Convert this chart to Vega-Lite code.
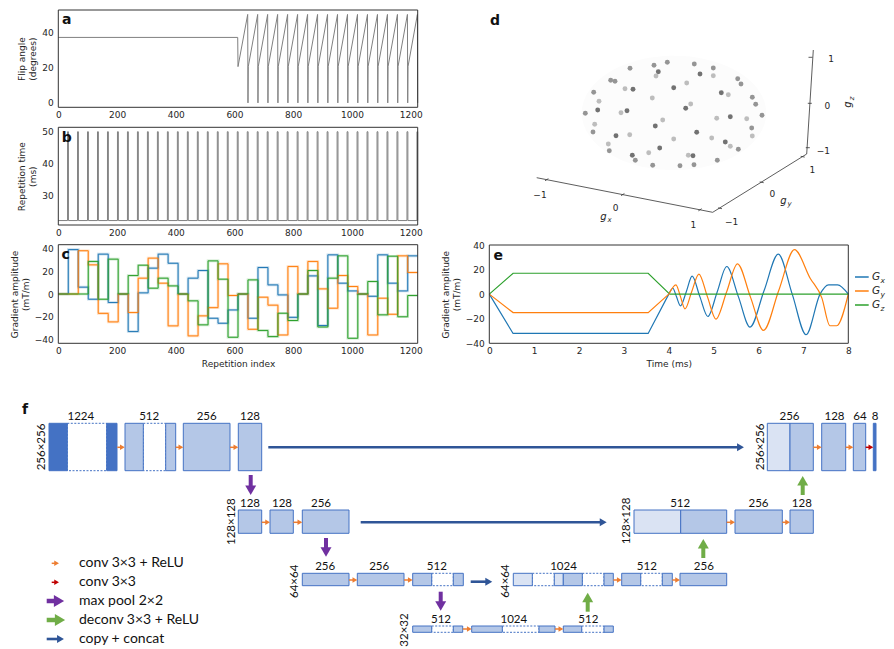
{
"$schema":"https://vega.github.io/schema/vega-lite/v6.json",
"width":894,"height":649,"autosize":{"type":"none"},"padding":0,"background":"#ffffff",
"config":{"view":{"stroke":null},
 "axis":{"labelFont":"DejaVu Sans","titleFont":"DejaVu Sans","labelFontSize":9,"titleFontSize":9,"titleFontWeight":"normal","labelColor":"#262626","titleColor":"#262626","ticks":false,"domain":false,"grid":false,"labelPadding":3,"labelFlush":false,"labelOverlap":false,"labelBound":false,"titlePadding":4,"format":"d"},
 "text":{"font":"DejaVu Sans"}},
"datasets":{
 "flip":[{"r":0,"a":37},{"r":611,"a":37},{"r":612,"a":20.5},
  {"r":645,"a":50},{"r":646,"a":0},{"r":647,"a":20.5},
  {"r":679,"a":50},{"r":680,"a":0},{"r":681,"a":20.5},
  {"r":713,"a":50},{"r":714,"a":0},{"r":715,"a":20.5},
  {"r":747,"a":50},{"r":748,"a":0},{"r":749,"a":20.5},
  {"r":781,"a":50},{"r":782,"a":0},{"r":783,"a":20.5},
  {"r":815,"a":50},{"r":816,"a":0},{"r":817,"a":20.5},
  {"r":849,"a":50},{"r":850,"a":0},{"r":851,"a":20.5},
  {"r":883,"a":50},{"r":884,"a":0},{"r":885,"a":20.5},
  {"r":917,"a":50},{"r":918,"a":0},{"r":919,"a":20.5},
  {"r":951,"a":50},{"r":952,"a":0},{"r":953,"a":20.5},
  {"r":985,"a":50},{"r":986,"a":0},{"r":987,"a":20.5},
  {"r":1019,"a":50},{"r":1020,"a":0},{"r":1021,"a":20.5},
  {"r":1053,"a":50},{"r":1054,"a":0},{"r":1055,"a":20.5},
  {"r":1087,"a":50},{"r":1088,"a":0},{"r":1089,"a":20.5},
  {"r":1121,"a":50},{"r":1122,"a":0},{"r":1123,"a":20.5},
  {"r":1155,"a":50},{"r":1156,"a":0},{"r":1157,"a":20.5},
  {"r":1189,"a":50},{"r":1190,"a":0},{"r":1191,"a":20.5},
  {"r":1223,"a":50},{"r":1224,"a":0}],
 "tr":[{"r":0,"t":22},
  {"r":31.5,"t":50},{"r":34.5,"t":22},{"r":65.5,"t":50},{"r":68.5,"t":22},{"r":99.5,"t":50},{"r":102.5,"t":22},
  {"r":133.5,"t":50},{"r":136.5,"t":22},{"r":167.5,"t":50},{"r":170.5,"t":22},{"r":201.5,"t":50},{"r":204.5,"t":22},
  {"r":235.5,"t":50},{"r":238.5,"t":22},{"r":269.5,"t":50},{"r":272.5,"t":22},{"r":303.5,"t":50},{"r":306.5,"t":22},
  {"r":337.5,"t":50},{"r":340.5,"t":22},{"r":371.5,"t":50},{"r":374.5,"t":22},{"r":405.5,"t":50},{"r":408.5,"t":22},
  {"r":439.5,"t":50},{"r":442.5,"t":22},{"r":473.5,"t":50},{"r":476.5,"t":22},{"r":507.5,"t":50},{"r":510.5,"t":22},
  {"r":541.5,"t":50},{"r":544.5,"t":22},{"r":575.5,"t":50},{"r":578.5,"t":22},{"r":609.5,"t":50},{"r":612.5,"t":22},
  {"r":643.5,"t":50},{"r":646.5,"t":22},{"r":677.5,"t":50},{"r":680.5,"t":22},{"r":711.5,"t":50},{"r":714.5,"t":22},
  {"r":745.5,"t":50},{"r":748.5,"t":22},{"r":779.5,"t":50},{"r":782.5,"t":22},{"r":813.5,"t":50},{"r":816.5,"t":22},
  {"r":847.5,"t":50},{"r":850.5,"t":22},{"r":881.5,"t":50},{"r":884.5,"t":22},{"r":915.5,"t":50},{"r":918.5,"t":22},
  {"r":949.5,"t":50},{"r":952.5,"t":22},{"r":983.5,"t":50},{"r":986.5,"t":22},{"r":1017.5,"t":50},{"r":1020.5,"t":22},
  {"r":1051.5,"t":50},{"r":1054.5,"t":22},{"r":1085.5,"t":50},{"r":1088.5,"t":22},{"r":1119.5,"t":50},{"r":1122.5,"t":22},
  {"r":1153.5,"t":50},{"r":1156.5,"t":22},{"r":1187.5,"t":50},{"r":1190.5,"t":22},{"r":1221.5,"t":50},{"r":1224,"t":22}],
 "grad":[
  {"r":0,"v":0,"g":"Gx"},{"r":34,"v":39,"g":"Gx"},{"r":68,"v":6,"g":"Gx"},{"r":102,"v":-4.6,"g":"Gx"},{"r":136,"v":35,"g":"Gx"},{"r":170,"v":-7.5,"g":"Gx"},{"r":204,"v":0,"g":"Gx"},{"r":238,"v":-33,"g":"Gx"},{"r":272,"v":1,"g":"Gx"},{"r":306,"v":22.7,"g":"Gx"},{"r":340,"v":35,"g":"Gx"},{"r":374,"v":27,"g":"Gx"},{"r":408,"v":0,"g":"Gx"},{"r":442,"v":13.9,"g":"Gx"},{"r":476,"v":20.6,"g":"Gx"},{"r":510,"v":-21.3,"g":"Gx"},{"r":544,"v":-25.7,"g":"Gx"},{"r":578,"v":-14,"g":"Gx"},{"r":612,"v":0,"g":"Gx"},{"r":646,"v":-21.3,"g":"Gx"},{"r":680,"v":23.3,"g":"Gx"},{"r":714,"v":8,"g":"Gx"},{"r":748,"v":-0.8,"g":"Gx"},{"r":782,"v":-20.5,"g":"Gx"},{"r":816,"v":0,"g":"Gx"},{"r":850,"v":15.9,"g":"Gx"},{"r":884,"v":-27.7,"g":"Gx"},{"r":918,"v":34.4,"g":"Gx"},{"r":952,"v":9.5,"g":"Gx"},{"r":986,"v":2.7,"g":"Gx"},{"r":1020,"v":0,"g":"Gx"},{"r":1054,"v":-2,"g":"Gx"},{"r":1088,"v":34.4,"g":"Gx"},{"r":1122,"v":9.5,"g":"Gx"},{"r":1156,"v":2.7,"g":"Gx"},{"r":1190,"v":33.5,"g":"Gx"},{"r":1224,"v":33.5,"g":"Gx"},
  {"r":0,"v":0,"g":"Gy"},{"r":34,"v":0,"g":"Gy"},{"r":68,"v":38,"g":"Gy"},{"r":102,"v":25.6,"g":"Gy"},{"r":136,"v":-17,"g":"Gy"},{"r":170,"v":-24.5,"g":"Gy"},{"r":204,"v":0,"g":"Gy"},{"r":238,"v":-16.3,"g":"Gy"},{"r":272,"v":13.9,"g":"Gy"},{"r":306,"v":31.5,"g":"Gy"},{"r":340,"v":9.5,"g":"Gy"},{"r":374,"v":-28,"g":"Gy"},{"r":408,"v":0,"g":"Gy"},{"r":442,"v":-36.8,"g":"Gy"},{"r":476,"v":-19.2,"g":"Gy"},{"r":510,"v":-12,"g":"Gy"},{"r":544,"v":26.5,"g":"Gy"},{"r":578,"v":-1.3,"g":"Gy"},{"r":612,"v":0,"g":"Gy"},{"r":646,"v":-31,"g":"Gy"},{"r":680,"v":-2.8,"g":"Gy"},{"r":714,"v":-9.8,"g":"Gy"},{"r":748,"v":-36,"g":"Gy"},{"r":782,"v":24.2,"g":"Gy"},{"r":816,"v":0,"g":"Gy"},{"r":850,"v":28.6,"g":"Gy"},{"r":884,"v":4.5,"g":"Gy"},{"r":918,"v":-12.5,"g":"Gy"},{"r":952,"v":16.2,"g":"Gy"},{"r":986,"v":6.6,"g":"Gy"},{"r":1020,"v":0,"g":"Gy"},{"r":1054,"v":-36,"g":"Gy"},{"r":1088,"v":-3.7,"g":"Gy"},{"r":1122,"v":-17.8,"g":"Gy"},{"r":1156,"v":33.5,"g":"Gy"},{"r":1190,"v":18.9,"g":"Gy"},{"r":1224,"v":18.9,"g":"Gy"},
  {"r":0,"v":0,"g":"Gz"},{"r":34,"v":0,"g":"Gz"},{"r":68,"v":0,"g":"Gz"},{"r":102,"v":28.6,"g":"Gz"},{"r":136,"v":-4.6,"g":"Gz"},{"r":170,"v":30.6,"g":"Gz"},{"r":204,"v":0,"g":"Gz"},{"r":238,"v":16.2,"g":"Gz"},{"r":272,"v":25.3,"g":"Gz"},{"r":306,"v":5.1,"g":"Gz"},{"r":340,"v":13.9,"g":"Gz"},{"r":374,"v":7.1,"g":"Gz"},{"r":408,"v":0,"g":"Gz"},{"r":442,"v":-6,"g":"Gz"},{"r":476,"v":-27.1,"g":"Gz"},{"r":510,"v":29.1,"g":"Gz"},{"r":544,"v":13,"g":"Gz"},{"r":578,"v":-38,"g":"Gz"},{"r":612,"v":0,"g":"Gz"},{"r":646,"v":12.4,"g":"Gz"},{"r":680,"v":-32,"g":"Gz"},{"r":714,"v":-37.4,"g":"Gz"},{"r":748,"v":-16.9,"g":"Gz"},{"r":782,"v":-23.3,"g":"Gz"},{"r":816,"v":0,"g":"Gz"},{"r":850,"v":20.6,"g":"Gz"},{"r":884,"v":-29,"g":"Gz"},{"r":918,"v":13.9,"g":"Gz"},{"r":952,"v":33.5,"g":"Gz"},{"r":986,"v":-38.9,"g":"Gz"},{"r":1020,"v":0,"g":"Gz"},{"r":1054,"v":11,"g":"Gz"},{"r":1088,"v":-18.3,"g":"Gz"},{"r":1122,"v":33.2,"g":"Gz"},{"r":1156,"v":-20,"g":"Gz"},{"r":1190,"v":-1.3,"g":"Gz"},{"r":1224,"v":-1.3,"g":"Gz"}],
 "eRamp":[{"t":0,"v":0,"g":"Gx"},{"t":0.53,"v":-32,"g":"Gx"},{"t":3.54,"v":-32,"g":"Gx"},{"t":4.0,"v":0,"g":"Gx"},
  {"t":0,"v":0,"g":"Gy"},{"t":0.53,"v":-15,"g":"Gy"},{"t":3.54,"v":-15,"g":"Gy"},{"t":4.0,"v":0,"g":"Gy"},
  {"t":0,"v":0,"g":"Gz"},{"t":0.53,"v":17,"g":"Gz"},{"t":3.54,"v":17,"g":"Gz"},{"t":4.02,"v":0,"g":"Gz"}],
 "eOsc":[{"t":4.0,"v":0,"g":"Gx"},{"t":4.09,"v":4.8,"g":"Gx"},{"t":4.17,"v":-2,"g":"Gx"},{"t":4.26,"v":-9.5,"g":"Gx"},{"t":4.39,"v":2,"g":"Gx"},{"t":4.52,"v":14.6,"g":"Gx"},{"t":4.69,"v":-1.8,"g":"Gx"},{"t":4.87,"v":-18.2,"g":"Gx"},{"t":5.08,"v":2,"g":"Gx"},{"t":5.29,"v":22.5,"g":"Gx"},{"t":5.55,"v":-2,"g":"Gx"},{"t":5.81,"v":-26.8,"g":"Gx"},{"t":6.12,"v":2.5,"g":"Gx"},{"t":6.44,"v":32.5,"g":"Gx"},{"t":6.75,"v":0,"g":"Gx"},{"t":7.06,"v":-33,"g":"Gx"},{"t":7.37,"v":0,"g":"Gx"},{"t":7.56,"v":7.6,"g":"Gx"},{"t":7.76,"v":7.6,"g":"Gx"},{"t":8.0,"v":0,"g":"Gx"},
  {"t":4.0,"v":0,"g":"Gy"},{"t":4.16,"v":7.6,"g":"Gy"},{"t":4.26,"v":-2,"g":"Gy"},{"t":4.36,"v":-12,"g":"Gy"},{"t":4.51,"v":2,"g":"Gy"},{"t":4.67,"v":16.3,"g":"Gy"},{"t":4.86,"v":-2,"g":"Gy"},{"t":5.05,"v":-20.3,"g":"Gy"},{"t":5.29,"v":2,"g":"Gy"},{"t":5.53,"v":24.7,"g":"Gy"},{"t":5.82,"v":-2.4,"g":"Gy"},{"t":6.11,"v":-29.5,"g":"Gy"},{"t":6.45,"v":3,"g":"Gy"},{"t":6.8,"v":36.3,"g":"Gy"},{"t":7.15,"v":13,"g":"Gy"},{"t":7.41,"v":-3,"g":"Gy"},{"t":7.59,"v":-25.7,"g":"Gy"},{"t":7.74,"v":-25.7,"g":"Gy"},{"t":8.0,"v":0,"g":"Gy"},
  {"t":4.02,"v":0,"g":"Gz"},{"t":8.0,"v":0,"g":"Gz"}],
 "dSphere":[{"x":674,"y":113}],
 "dLines":[{"x":536.7,"y":177.7,"x2":712.7,"y2":212.3},{"x":712.7,"y":212.3,"x2":806.7,"y2":154},{"x":806.7,"y":154,"x2":813.3,"y2":50},
  {"x":548.4,"y":178.6,"x2":545,"y2":180.8},{"x":624.4,"y":193.5,"x2":621,"y2":195.7},{"x":701.7,"y":208.7,"x2":698.3,"y2":210.9},
  {"x":718,"y":207.9,"x2":722,"y2":208.7},{"x":759.7,"y":181.9,"x2":763.7,"y2":182.7},{"x":800.7,"y":156.3,"x2":804.7,"y2":157.1},
  {"x":808.5,"y":57.3,"x2":812.5,"y2":57.3},{"x":807.8,"y":103.3,"x2":811.8,"y2":103.3},{"x":805.8,"y":147.7,"x2":809.8,"y2":147.7}],
 "dPts":[{"x":630.0,"y":68.3,"s":"mid"},{"x":654.0,"y":65.3,"s":"mid"},{"x":667.3,"y":62.3,"s":"mid"},{"x":694.3,"y":64.0,"s":"mid"},{"x":713.3,"y":68.0,"s":"mid"},{"x":658.3,"y":71.7,"s":"dark"},{"x":656.0,"y":76.0,"s":"light"},{"x":700.0,"y":74.0,"s":"dark"},{"x":713.3,"y":75.7,"s":"light"},{"x":610.7,"y":80.3,"s":"mid"},{"x":615.0,"y":81.3,"s":"mid"},{"x":737.7,"y":78.7,"s":"mid"},{"x":741.0,"y":84.0,"s":"mid"},{"x":686.7,"y":83.0,"s":"light"},{"x":625.0,"y":88.7,"s":"light"},{"x":633.0,"y":89.3,"s":"dark"},{"x":673.7,"y":87.7,"s":"dark"},{"x":593.7,"y":92.3,"s":"mid"},{"x":721.3,"y":92.7,"s":"dark"},{"x":728.3,"y":94.7,"s":"light"},{"x":599.0,"y":101.3,"s":"light"},{"x":652.3,"y":98.0,"s":"light"},{"x":752.3,"y":97.3,"s":"mid"},{"x":755.7,"y":104.3,"s":"mid"},{"x":690.7,"y":104.0,"s":"light"},{"x":685.7,"y":108.3,"s":"dark"},{"x":597.7,"y":110.0,"s":"dark"},{"x":627.0,"y":110.7,"s":"dark"},{"x":621.0,"y":112.7,"s":"light"},{"x":585.3,"y":113.3,"s":"mid"},{"x":762.0,"y":115.3,"s":"mid"},{"x":716.7,"y":118.3,"s":"light"},{"x":730.3,"y":116.7,"s":"dark"},{"x":746.7,"y":118.7,"s":"light"},{"x":662.7,"y":120.0,"s":"light"},{"x":594.7,"y":124.3,"s":"light"},{"x":655.3,"y":126.0,"s":"dark"},{"x":751.7,"y":128.0,"s":"mid"},{"x":593.0,"y":132.0,"s":"mid"},{"x":616.0,"y":135.7,"s":"dark"},{"x":629.7,"y":134.7,"s":"light"},{"x":696.7,"y":132.3,"s":"dark"},{"x":752.3,"y":136.0,"s":"light"},{"x":673.7,"y":139.0,"s":"light"},{"x":711.7,"y":138.0,"s":"light"},{"x":608.3,"y":144.0,"s":"light"},{"x":725.3,"y":142.0,"s":"dark"},{"x":730.3,"y":146.3,"s":"light"},{"x":609.3,"y":150.7,"s":"mid"},{"x":659.7,"y":148.0,"s":"dark"},{"x":738.3,"y":149.3,"s":"mid"},{"x":648.7,"y":152.7,"s":"light"},{"x":632.3,"y":155.3,"s":"dark"},{"x":688.3,"y":155.3,"s":"light"},{"x":693.0,"y":155.7,"s":"dark"},{"x":635.3,"y":160.3,"s":"mid"},{"x":717.3,"y":160.3,"s":"mid"},{"x":652.7,"y":165.3,"s":"mid"},{"x":680.0,"y":165.7,"s":"mid"},{"x":694.0,"y":164.7,"s":"mid"}],
 "dLab":[{"x":540,"y":195,"t":"−1"},{"x":615.7,"y":208.3,"t":"0"},{"x":693.3,"y":225,"t":"1"},{"x":812.3,"y":170,"t":"1"},{"x":772.3,"y":194,"t":"0"},{"x":731.7,"y":221.7,"t":"−1"},{"x":831,"y":59.3,"t":"1"},{"x":827.3,"y":106,"t":"0"},{"x":823.3,"y":150.7,"t":"−1"}],
 "dG":[{"x":603.5,"y":216.5,"t":"g"},{"x":783.5,"y":200.5,"t":"g"}],
 "dGsub":[{"x":609.5,"y":220,"t":"x"},{"x":789.5,"y":204,"t":"y"}],
 "dGz":[{"x":848,"y":104.5,"t":"g"}],
 "dGzsub":[{"x":851.5,"y":98.5,"t":"z"}],
 "fOpen":[{"x":67.3,"x2":106.7,"y":423.3,"y2":470.7},{"x":143.3,"x2":165.7,"y":423.3,"y2":470.7},
  {"x":431.7,"x2":453.3,"y":573.3,"y2":585.7},{"x":532.3,"x2":554.3,"y":573.3,"y2":585.7},{"x":582.3,"x2":604,"y":573.3,"y2":585.7},{"x":640.7,"x2":662.3,"y":573.3,"y2":585.7},
  {"x":431.7,"x2":453.3,"y":626,"y2":632.3},{"x":502.3,"x2":539,"y":626,"y2":632.3},{"x":581.7,"x2":604,"y":626,"y2":632.3}],
 "fBox":[{"x":49,"x2":67.3,"y":423.3,"y2":470.7,"p":"dark"},{"x":106.7,"x2":117,"y":423.3,"y2":470.7,"p":"dark"},
  {"x":125,"x2":143.3,"y":423.3,"y2":470.7,"p":"mid"},{"x":165.7,"x2":175.7,"y":423.3,"y2":470.7,"p":"mid"},
  {"x":183.3,"x2":230,"y":423.3,"y2":470.7,"p":"mid"},{"x":238.3,"x2":261.7,"y":423.3,"y2":470.7,"p":"mid"},
  {"x":767.3,"x2":790,"y":423.3,"y2":470.7,"p":"light"},{"x":790,"x2":813.3,"y":423.3,"y2":470.7,"p":"mid"},{"x":821.7,"x2":845.7,"y":423.3,"y2":470.7,"p":"mid"},{"x":853.3,"x2":865.7,"y":423.3,"y2":470.7,"p":"mid"},{"x":873.3,"x2":876,"y":423.3,"y2":470.7,"p":"dark"},
  {"x":238.3,"x2":261.7,"y":510,"y2":533.3,"p":"mid"},{"x":270,"x2":293.3,"y":510,"y2":533.3,"p":"mid"},{"x":302.3,"x2":349,"y":510,"y2":533.3,"p":"mid"},
  {"x":634,"x2":680.7,"y":510,"y2":533.3,"p":"light"},{"x":680.7,"x2":726.7,"y":510,"y2":533.3,"p":"mid"},{"x":735,"x2":782.3,"y":510,"y2":533.3,"p":"mid"},{"x":790,"x2":813.3,"y":510,"y2":533.3,"p":"mid"},
  {"x":302.3,"x2":349,"y":573.3,"y2":585.7,"p":"mid"},{"x":357.3,"x2":404,"y":573.3,"y2":585.7,"p":"mid"},{"x":412.7,"x2":431.7,"y":573.3,"y2":585.7,"p":"mid"},{"x":453.3,"x2":463.3,"y":573.3,"y2":585.7,"p":"mid"},
  {"x":513.3,"x2":532.3,"y":573.3,"y2":585.7,"p":"light"},{"x":554.3,"x2":563.3,"y":573.3,"y2":585.7,"p":"light"},{"x":563.3,"x2":582.3,"y":573.3,"y2":585.7,"p":"mid"},{"x":604,"x2":613.3,"y":573.3,"y2":585.7,"p":"mid"},
  {"x":621.7,"x2":640.7,"y":573.3,"y2":585.7,"p":"mid"},{"x":662.3,"x2":672.3,"y":573.3,"y2":585.7,"p":"mid"},{"x":680,"x2":726.7,"y":573.3,"y2":585.7,"p":"mid"},
  {"x":412.7,"x2":431.7,"y":626,"y2":632.3,"p":"mid"},{"x":453.3,"x2":462.7,"y":626,"y2":632.3,"p":"mid"},{"x":471.7,"x2":502.3,"y":626,"y2":632.3,"p":"mid"},{"x":539,"x2":555,"y":626,"y2":632.3,"p":"mid"},{"x":563.3,"x2":581.7,"y":626,"y2":632.3,"p":"mid"},{"x":604,"x2":613.3,"y":626,"y2":632.3,"p":"mid"}],
 "fSmall":[{"x":117.3,"x2":124.8,"y":447.3,"k":"conv"},{"x":175.7,"x2":183.3,"y":447.3,"k":"conv"},{"x":230,"x2":238.3,"y":447.3,"k":"conv"},{"x":813.3,"x2":821.7,"y":447.3,"k":"conv"},{"x":845.7,"x2":853.3,"y":447.3,"k":"conv"},{"x":865.7,"x2":873.3,"y":447.3,"k":"last"},
  {"x":261.7,"x2":270,"y":522.3,"k":"conv"},{"x":293.3,"x2":302.3,"y":522.3,"k":"conv"},{"x":726.7,"x2":735,"y":522.3,"k":"conv"},{"x":782.3,"x2":790,"y":522.3,"k":"conv"},
  {"x":349,"x2":357.3,"y":580,"k":"conv"},{"x":404,"x2":412.7,"y":580,"k":"conv"},{"x":613.3,"x2":621.7,"y":580,"k":"conv"},{"x":672.3,"x2":680,"y":580,"k":"conv"},
  {"x":462.7,"x2":471.7,"y":629,"k":"conv"},{"x":555,"x2":563.3,"y":629,"k":"conv"},
  {"x":51.7,"x2":59,"y":563.3,"k":"conv"},{"x":51.7,"x2":59,"y":582.3,"k":"last"}],
 "fCopy":[{"x":268.3,"x2":744,"y":447.3,"k":"copy"},{"x":360.7,"x2":606.7,"y":522.3,"k":"copy"},{"x":470.7,"x2":492.3,"y":581.7,"k":"copy"},{"x":46.7,"x2":64,"y":639,"k":"copy"}],
 "fBigH":[{"x":46.7,"x2":64,"y":601,"k":"pool"},{"x":46.7,"x2":65,"y":620,"k":"deconv"}],
 "fDown":[{"x":250.7,"y":475,"y2":495,"k":"pool"},{"x":326,"y":538,"y2":556.7,"k":"pool"},{"x":440.7,"y":591.7,"y2":610.7,"k":"pool"}],
 "fUp":[{"x":587.7,"y":611.7,"y2":592.7,"k":"deconv"},{"x":703.3,"y":558,"y2":539,"k":"deconv"},{"x":802.7,"y":495,"y2":476,"k":"deconv"}],
 "fNums":[{"x":80.8,"y":423.3,"t":"1224"},{"x":149.2,"y":423.3,"t":"512"},{"x":206.7,"y":423.3,"t":"256"},{"x":250,"y":423.3,"t":"128"},{"x":789.5,"y":423.3,"t":"256"},{"x":834.5,"y":423.3,"t":"128"},{"x":860,"y":423.3,"t":"64"},{"x":875,"y":423.3,"t":"8"},
  {"x":250,"y":510,"t":"128"},{"x":282,"y":510,"t":"128"},{"x":321,"y":510,"t":"256"},{"x":680.2,"y":510,"t":"512"},{"x":758.5,"y":510,"t":"256"},{"x":801.8,"y":510,"t":"128"},
  {"x":325.2,"y":573.3,"t":"256"},{"x":379.2,"y":573.3,"t":"256"},{"x":436.8,"y":573.3,"t":"512"},{"x":563.5,"y":573.3,"t":"1024"},{"x":646.8,"y":573.3,"t":"512"},{"x":703.8,"y":573.3,"t":"256"},
  {"x":441,"y":626,"t":"512"},{"x":513.8,"y":626,"t":"1024"},{"x":588.3,"y":626,"t":"512"}],
 "fRows":[{"x":41.7,"y":447,"t":"256×256"},{"x":760.7,"y":447,"t":"256×256"},{"x":232,"y":521.7,"t":"128×128"},{"x":627.3,"y":521,"t":"128×128"},{"x":295,"y":581.3,"t":"64×64"},{"x":505.7,"y":581,"t":"64×64"},{"x":405,"y":630,"t":"32×32"}],
 "fLeg":[{"x":79,"y":563.3,"t":"conv 3×3 + ReLU"},{"x":79,"y":582.3,"t":"conv 3×3"},{"x":79,"y":601,"t":"max pool 2×2"},{"x":79,"y":620,"t":"deconv 3×3 + ReLU"},{"x":79,"y":639,"t":"copy + concat"}],
 "panelLab":[{"x":66.7,"y":20,"t":"a"},{"x":66.7,"y":138.3,"t":"b"},{"x":65.7,"y":255,"t":"c"},{"x":495,"y":20.7,"t":"d"},{"x":498.3,"y":255.7,"t":"e"},{"x":25,"y":410,"t":"f"}],
 "eLegLines":[{"x":855,"x2":868.7,"y":277,"g":"Gx"},{"x":855,"x2":868.7,"y":291,"g":"Gy"},{"x":855,"x2":868.7,"y":305,"g":"Gz"}],
 "eLegG":[{"x":872,"y":277,"t":"G"},{"x":872,"y":291,"t":"G"},{"x":872,"y":305,"t":"G"}],
 "eLegSub":[{"x":880.5,"y":280.5,"t":"x"},{"x":880.5,"y":294.5,"t":"y"},{"x":880.5,"y":308.5,"t":"z"}]
},
"layer":[
 {"layer":[
  {"data":{"name":"flip"},"mark":{"type":"line","color":"#808080","strokeWidth":1,"clip":true},
   "encoding":{
    "x":{"field":"r","type":"quantitative","scale":{"domain":[0,1224],"range":[58.3,417.7],"nice":false,"zero":false},"axis":{"orient":"bottom","offset":-541.7,"values":[0,200,400,600,800,1000,1200],"title":null}},
    "y":{"field":"a","type":"quantitative","scale":{"domain":[-2.5,52.5],"range":[107.3,10],"nice":false,"zero":false},"axis":{"orient":"left","offset":-58.3,"values":[0,20,40],"title":["Flip angle","(degrees)"],"labelPadding":5}}}},
  {"data":{"values":[{}]},"mark":{"type":"rect","filled":false,"color":"#333333","strokeWidth":1},
   "encoding":{"x":{"datum":0,"type":"quantitative"},"x2":{"datum":1224},"y":{"datum":-2.5,"type":"quantitative"},"y2":{"datum":52.5}}}
 ]},
 {"layer":[
  {"data":{"name":"tr"},"mark":{"type":"line","color":"#808080","strokeWidth":1,"interpolate":"step-after","clip":true},
   "encoding":{
    "x":{"field":"r","type":"quantitative","scale":{"domain":[0,1224],"range":[58.3,417.7],"nice":false,"zero":false},"axis":{"orient":"bottom","offset":-424,"values":[0,200,400,600,800,1000,1200],"title":null}},
    "y":{"field":"t","type":"quantitative","scale":{"domain":[20.6,51.4],"range":[225,127.3],"nice":false,"zero":false},"axis":{"orient":"left","offset":-58.3,"values":[30,40,50],"title":["Repetition time","(ms)"],"labelPadding":5}}}},
  {"data":{"values":[{}]},"mark":{"type":"rect","filled":false,"color":"#333333","strokeWidth":1},
   "encoding":{"x":{"datum":0,"type":"quantitative"},"x2":{"datum":1224},"y":{"datum":20.6,"type":"quantitative"},"y2":{"datum":51.4}}}
 ]},
 {"layer":[
  {"data":{"name":"grad"},"mark":{"type":"line","strokeWidth":2.6,"opacity":0.25,"interpolate":"step-after","clip":true},
   "encoding":{
    "x":{"field":"r","type":"quantitative","scale":{"domain":[0,1224],"range":[58.3,417.7],"nice":false,"zero":false},"axis":{"orient":"bottom","offset":-305.7,"values":[0,200,400,600,800,1000,1200],"title":"Repetition index"}},
    "y":{"field":"v","type":"quantitative","scale":{"domain":[-43.3,43.3],"range":[343.3,244.7],"nice":false,"zero":false},"axis":{"orient":"left","offset":-58.3,"values":[-40,-20,0,20,40],"title":["Gradient amplitude","(mT/m)"],"labelPadding":5}},
    "color":{"field":"g","type":"nominal","scale":{"domain":["Gx","Gy","Gz"],"range":["#1f77b4","#ff7f0e","#2ca02c"]},"legend":null}}},
  {"data":{"name":"grad"},"mark":{"type":"line","strokeWidth":1,"interpolate":"step-after","clip":true},
   "encoding":{
    "x":{"field":"r","type":"quantitative"},
    "y":{"field":"v","type":"quantitative"},
    "color":{"field":"g","type":"nominal","legend":null}}},
  {"data":{"values":[{}]},"mark":{"type":"rect","filled":false,"color":"#333333","strokeWidth":1},
   "encoding":{"x":{"datum":0,"type":"quantitative"},"x2":{"datum":1224},"y":{"datum":-43.3,"type":"quantitative"},"y2":{"datum":43.3}}}
 ]},
 {"layer":[
  {"data":{"name":"eRamp"},"mark":{"type":"line","strokeWidth":1.2,"clip":true},
   "encoding":{
    "x":{"field":"t","type":"quantitative","scale":{"domain":[0,8],"range":[489.3,848.3],"nice":false,"zero":false},"axis":{"orient":"bottom","offset":-305.7,"values":[0,1,2,3,4,5,6,7,8],"title":"Time (ms)"}},
    "y":{"field":"v","type":"quantitative","scale":{"domain":[-40,40],"range":[343.3,245],"nice":false,"zero":false},"axis":{"orient":"left","offset":-489.3,"values":[-40,-20,0,20,40],"title":["Gradient amplitude","(mT/m)"],"labelPadding":5}},
    "color":{"field":"g","type":"nominal","scale":{"domain":["Gx","Gy","Gz"],"range":["#1f77b4","#ff7f0e","#2ca02c"]},"legend":null}}},
  {"data":{"name":"eOsc"},"mark":{"type":"line","strokeWidth":1.2,"interpolate":"monotone","clip":true},
   "encoding":{
    "x":{"field":"t","type":"quantitative"},
    "y":{"field":"v","type":"quantitative"},
    "color":{"field":"g","type":"nominal","legend":null}}},
  {"data":{"values":[{}]},"mark":{"type":"rect","filled":false,"color":"#333333","strokeWidth":1},
   "encoding":{"x":{"datum":0,"type":"quantitative"},"x2":{"datum":8},"y":{"datum":-40,"type":"quantitative"},"y2":{"datum":40}}}
 ]},
 {"encoding":{
   "x":{"field":"x","type":"quantitative","scale":{"domain":[0,894],"range":[0,894],"nice":false,"zero":false},"axis":null},
   "y":{"field":"y","type":"quantitative","scale":{"domain":[0,649],"range":[0,649],"nice":false,"zero":false},"axis":null}},
  "layer":[
  {"data":{"name":"dSphere"},"mark":{"type":"point","shape":"M-1,0A1,0.62,0,1,1,1,0A1,0.62,0,1,1,-1,0Z","size":34000,"filled":true,"color":"#fcfcfc","opacity":1}},
  {"data":{"name":"dLines"},"mark":{"type":"rule","color":"#333333","strokeWidth":0.8},
   "encoding":{"x2":{"field":"x2"},"y2":{"field":"y2"}}},
  {"data":{"name":"dPts"},"mark":{"type":"point","filled":true,"size":24,"opacity":1},
   "encoding":{"color":{"field":"s","type":"nominal","scale":{"domain":["dark","mid","light"],"range":["#727272","#959595","#bdbdbd"]},"legend":null}}},
  {"data":{"name":"dLab"},"mark":{"type":"text","fontSize":9,"color":"#262626","align":"center","baseline":"middle"},
   "encoding":{"text":{"field":"t"}}},
  {"data":{"name":"dG"},"mark":{"type":"text","fontSize":10,"fontStyle":"italic","color":"#262626","align":"center","baseline":"middle"},
   "encoding":{"text":{"field":"t"}}},
  {"data":{"name":"dGsub"},"mark":{"type":"text","fontSize":7,"fontStyle":"italic","color":"#262626","align":"center","baseline":"middle"},
   "encoding":{"text":{"field":"t"}}},
  {"data":{"name":"dGz"},"mark":{"type":"text","fontSize":10,"fontStyle":"italic","color":"#262626","align":"center","baseline":"middle","angle":270},
   "encoding":{"text":{"field":"t"}}},
  {"data":{"name":"dGzsub"},"mark":{"type":"text","fontSize":7,"fontStyle":"italic","color":"#262626","align":"center","baseline":"middle","angle":270},
   "encoding":{"text":{"field":"t"}}}
 ]},
 {"encoding":{
   "x":{"field":"x","type":"quantitative","scale":{"domain":[0,894],"range":[0,894],"nice":false,"zero":false},"axis":null},
   "y":{"field":"y","type":"quantitative","scale":{"domain":[0,649],"range":[0,649],"nice":false,"zero":false},"axis":null}},
  "layer":[
  {"data":{"name":"fOpen"},"mark":{"type":"rect","fill":"#ffffff","stroke":"#4472c4","strokeWidth":1,"strokeDash":[2,1.5]},
   "encoding":{"x2":{"field":"x2"},"y2":{"field":"y2"}}},
  {"data":{"name":"fBox"},"mark":{"type":"rect","stroke":"#4472c4","strokeWidth":1},
   "encoding":{"x2":{"field":"x2"},"y2":{"field":"y2"},
    "fill":{"field":"p","type":"nominal","scale":{"domain":["dark","mid","light"],"range":["#4472c4","#b4c7e7","#dae3f3"]},"legend":null}}},
  {"data":{"name":"fSmall"},"mark":{"type":"rule","strokeWidth":1.5,"x2Offset":-3},
   "encoding":{"x2":{"field":"x2"},
    "color":{"field":"k","type":"nominal","scale":{"domain":["conv","last","pool","deconv","copy"],"range":["#ed7d31","#c00000","#7030a0","#70ad47","#2f5597"]},"legend":null}}},
  {"data":{"name":"fSmall"},"mark":{"type":"point","shape":"triangle-right","filled":true,"size":30,"opacity":1,"xOffset":-2.4},
   "encoding":{"x":{"field":"x2","type":"quantitative"},"color":{"field":"k","type":"nominal","legend":null}}},
  {"data":{"name":"fCopy"},"mark":{"type":"rule","strokeWidth":2.6,"x2Offset":-5},
   "encoding":{"x2":{"field":"x2"},"color":{"field":"k","type":"nominal","legend":null}}},
  {"data":{"name":"fCopy"},"mark":{"type":"point","shape":"triangle-right","filled":true,"size":64,"opacity":1,"xOffset":-3.5},
   "encoding":{"x":{"field":"x2","type":"quantitative"},"color":{"field":"k","type":"nominal","legend":null}}},
  {"data":{"name":"fBigH"},"mark":{"type":"rule","strokeWidth":4.5,"x2Offset":-6},
   "encoding":{"x2":{"field":"x2"},"color":{"field":"k","type":"nominal","legend":null}}},
  {"data":{"name":"fBigH"},"mark":{"type":"point","shape":"triangle-right","filled":true,"size":140,"opacity":1,"xOffset":-5},
   "encoding":{"x":{"field":"x2","type":"quantitative"},"color":{"field":"k","type":"nominal","legend":null}}},
  {"data":{"name":"fDown"},"mark":{"type":"rule","strokeWidth":4,"y2Offset":-6},
   "encoding":{"y2":{"field":"y2"},"color":{"field":"k","type":"nominal","legend":null}}},
  {"data":{"name":"fDown"},"mark":{"type":"point","shape":"triangle-down","filled":true,"size":120,"opacity":1,"yOffset":-4.7},
   "encoding":{"y":{"field":"y2","type":"quantitative"},"color":{"field":"k","type":"nominal","legend":null}}},
  {"data":{"name":"fUp"},"mark":{"type":"rule","strokeWidth":4,"y2Offset":6},
   "encoding":{"y2":{"field":"y2"},"color":{"field":"k","type":"nominal","legend":null}}},
  {"data":{"name":"fUp"},"mark":{"type":"point","shape":"triangle-up","filled":true,"size":120,"opacity":1,"yOffset":4.7},
   "encoding":{"y":{"field":"y2","type":"quantitative"},"color":{"field":"k","type":"nominal","legend":null}}},
  {"data":{"name":"fNums"},"mark":{"type":"text","font":"Lato","fontSize":11.5,"color":"#111111","align":"center","baseline":"bottom","dy":-1},
   "encoding":{"text":{"field":"t"}}},
  {"data":{"name":"fRows"},"mark":{"type":"text","font":"Lato","fontSize":11.5,"color":"#111111","align":"center","baseline":"middle","angle":270},
   "encoding":{"text":{"field":"t"}}},
  {"data":{"name":"fLeg"},"mark":{"type":"text","font":"Lato","fontSize":14,"color":"#111111","align":"left","baseline":"middle"},
   "encoding":{"text":{"field":"t"}}}
 ]},
 {"encoding":{
   "x":{"field":"x","type":"quantitative","scale":{"domain":[0,894],"range":[0,894],"nice":false,"zero":false},"axis":null},
   "y":{"field":"y","type":"quantitative","scale":{"domain":[0,649],"range":[0,649],"nice":false,"zero":false},"axis":null}},
  "layer":[
  {"data":{"name":"panelLab"},"mark":{"type":"text","fontSize":14,"fontWeight":"bold","color":"#111111","align":"center","baseline":"middle"},
   "encoding":{"text":{"field":"t"}}},
  {"data":{"name":"eLegLines"},"mark":{"type":"rule","strokeWidth":1.5},
   "encoding":{"x2":{"field":"x2"},"color":{"field":"g","type":"nominal","scale":{"domain":["Gx","Gy","Gz"],"range":["#1f77b4","#ff7f0e","#2ca02c"]},"legend":null}}},
  {"data":{"name":"eLegG"},"mark":{"type":"text","fontSize":10.5,"fontStyle":"italic","color":"#262626","align":"left","baseline":"middle"},
   "encoding":{"text":{"field":"t"}}},
  {"data":{"name":"eLegSub"},"mark":{"type":"text","fontSize":7.5,"fontStyle":"italic","color":"#262626","align":"left","baseline":"middle"},
   "encoding":{"text":{"field":"t"}}}
 ]}
],
"resolve":{"scale":{"x":"independent","y":"independent","color":"independent","fill":"independent"},"axis":{"x":"independent","y":"independent"}}
}
